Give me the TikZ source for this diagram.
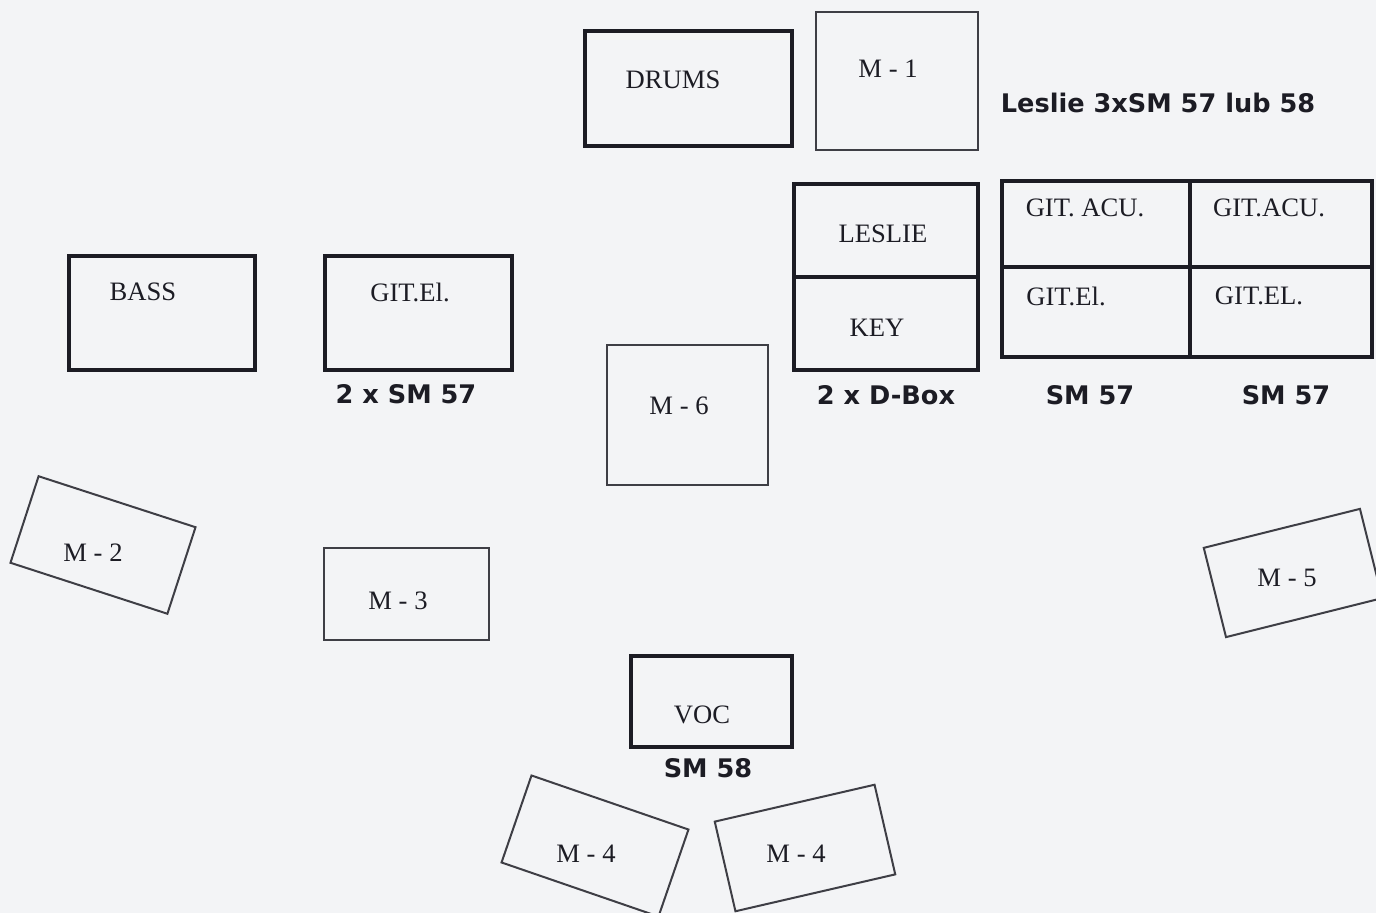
\documentclass[tikz,border=0pt]{standalone}
\usepackage{fontspec}
\setmainfont{Liberation Serif}
\newfontfamily\micfont{DejaVu Sans}
\usepackage{xcolor}
\definecolor{paper}{HTML}{F3F4F6}
\definecolor{ink}{HTML}{1C1C24}

\begin{document}
\begin{tikzpicture}[
x=0.5pt,y=-0.5pt,
heavy/.style={draw=ink,line width=2pt,inner sep=0pt},
light/.style={draw=ink!85,line width=1pt,inner sep=0pt},
boxsize/.style 2 args={minimum width=#1,minimum height=#2},
tag/.style={text=ink,font=\fontsize{13.3}{15}\selectfont,inner sep=0pt},
mic/.style={text=ink,font=\micfont\bfseries\fontsize{12.8}{15}\selectfont,inner sep=0pt}
]
\fill[paper] (0,0) rectangle (1376,913);
\useasboundingbox (0,0) rectangle (1376,913);
% boxes
\node[heavy,boxsize={103.5pt}{57.5pt}] (drums) at (688,89) {};
\node[light,boxsize={81pt}{69pt}] (m1) at (896.5,81.5) {};
\node[heavy,boxsize={92pt}{46.5pt}] (leslie) at (885.5,231) {};
\node[heavy,boxsize={92pt}{46.5pt}] (key) at (885.5,324) {};
\node[heavy,boxsize={93.75pt}{43.25pt}] (acuA) at (1096,224) {};
\node[heavy,boxsize={91.25pt}{43.25pt}] (acuB) at (1281,224) {};
\node[heavy,boxsize={93.75pt}{45.25pt}] (elA) at (1096,312) {};
\node[heavy,boxsize={91.25pt}{45.25pt}] (elB) at (1281,312) {};
\node[heavy,boxsize={93pt}{57pt}] (bass) at (161.5,313.5) {};
\node[heavy,boxsize={93.5pt}{57pt}] (gitel) at (418,313.5) {};
\node[light,boxsize={80.5pt}{70pt}] (m6) at (687,415.5) {};
\node[light,boxsize={82.5pt}{46pt}] (m3) at (406,594.5) {};
\node[heavy,boxsize={80.5pt}{45.5pt}] (voc) at (711,702) {};
\node[light,boxsize={82.5pt}{45.5pt},rotate=-18] (m2) at (103,545) {};
\node[light,boxsize={80.5pt}{46pt},rotate=14] (m5) at (1293,573) {};
\node[light,boxsize={83pt}{46pt},rotate=-19] (m4a) at (595,846) {};
\node[light,boxsize={82pt}{46pt},rotate=13] (m4b) at (805,848) {};
% names
\node[tag] (tdrums) at (673,80) {DRUMS};
\node[tag] (tm1) at (888,69) {M - 1};
\node[tag] (tleslie) at (883,234) {LESLIE};
\node[tag] (tkey) at (877,328) {KEY};
\node[tag] (tacuA) at (1085,208) {GIT. ACU.};
\node[tag] (tacuB) at (1269,208) {GIT.ACU.};
\node[tag] (telA) at (1066,296) {GIT.El.};
\node[tag] (telB) at (1259,296) {GIT.EL.};
\node[tag] (tbass) at (143,292) {BASS};
\node[tag] (tgitel) at (410,292) {GIT.El.};
\node[tag] (tm6) at (679,406) {M - 6};
\node[tag] (tm2) at (93,553) {M - 2};
\node[tag] (tm3) at (398,601) {M - 3};
\node[tag] (tm5) at (1287,578) {M - 5};
\node[tag] (tvoc) at (702,715) {VOC};
\node[tag] (tm4a) at (586,854) {M - 4};
\node[tag] (tm4b) at (796,854) {M - 4};
% microphones
\node[mic] (leslieMic) at (1158,103) {Leslie 3xSM 57 lub 58};
\node[mic] (gitelMic) at (406,394) {2 x SM 57};
\node[mic] (keyMic) at (886,395) {2 x D-Box};
\node[mic] (acuMicA) at (1090,395) {SM 57};
\node[mic] (acuMicB) at (1286,395) {SM 57};
\node[mic] (vocMic) at (708,768) {SM 58};
\end{tikzpicture}
\end{document}
